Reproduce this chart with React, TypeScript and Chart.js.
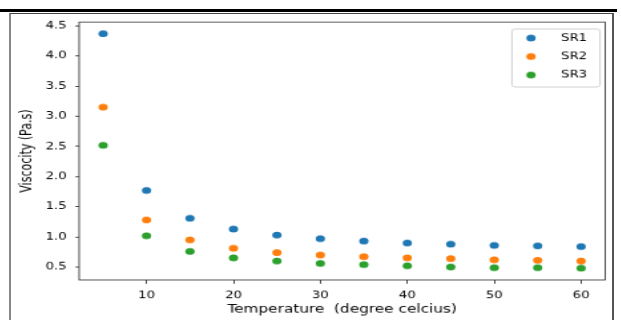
import React, { useEffect, useRef } from "react";
import { Chart, registerables } from "chart.js";

Chart.register(...registerables);

// ---- data ----
const temperatures = [5, 10, 15, 20, 25, 30, 35, 40, 45, 50, 55, 60];
const sr1 = [4.37, 1.77, 1.31, 1.13, 1.03, 0.97, 0.93, 0.9, 0.88, 0.86, 0.85, 0.84];
const sr2 = [3.15, 1.28, 0.95, 0.81, 0.74, 0.7, 0.67, 0.65, 0.64, 0.62, 0.61, 0.6];
const sr3 = [2.52, 1.02, 0.76, 0.65, 0.6, 0.56, 0.54, 0.52, 0.5, 0.49, 0.49, 0.48];
const seriesLabels = ["SR1", "SR2", "SR3"];
const seriesColors = ["#1f77b4", "#ff7f0e", "#2ca02c"];
const xTickValues = [10, 20, 30, 40, 50, 60];
const yTickValues = [0.5, 1.0, 1.5, 2.0, 2.5, 3.0, 3.5, 4.0, 4.5];
const xTitle = "Temperature  (degree celcius)";
const yTitle = "Viscocity (Pa.s)";

// ---- layout (canvas units; canvas is stretched by CSS) ----
const SX = 1.33;
const SY = 0.96;
const CW = 451;
const CH = 318;
const FONT = "DejaVu Sans";

function paddedRange(vals: number[]) {
  const mn = Math.min(...vals);
  const mx = Math.max(...vals);
  const m = (mx - mn) * 0.05;
  return { min: mn - m, max: mx + m };
}

const framePlugin = {
  id: "frameBox",
  afterDatasetsDraw(chart: any) {
    const { ctx, chartArea } = chart;
    ctx.save();
    ctx.strokeStyle = "#222";
    ctx.lineWidth = 0.8;
    ctx.strokeRect(
      chartArea.left,
      chartArea.top,
      chartArea.right - chartArea.left,
      chartArea.bottom - chartArea.top
    );
    ctx.restore();
  },
};

const legendPlugin = {
  id: "boxLegend",
  afterDraw(chart: any) {
    const { ctx, chartArea } = chart;
    const w = 66.2;
    const h = 60.4;
    const x0 = chartArea.right - 3.8 - w;
    const y0 = chartArea.top + 7.3;
    ctx.save();
    ctx.beginPath();
    ctx.roundRect(x0, y0, w, h, 2.5);
    ctx.fillStyle = "rgba(255,255,255,0.8)";
    ctx.fill();
    ctx.strokeStyle = "#d0d0d0";
    ctx.lineWidth = 1;
    ctx.stroke();
    const rows = [9.4, 28.6, 47.9];
    chart.data.datasets.forEach((ds: any, i: number) => {
      const cy = y0 + rows[i];
      ctx.beginPath();
      ctx.arc(x0 + 14.3, cy, 3.5, 0, Math.PI * 2);
      ctx.fillStyle = ds.backgroundColor;
      ctx.fill();
      ctx.fillStyle = "#000";
      ctx.font = `10px "${FONT}"`;
      ctx.textBaseline = "middle";
      ctx.textAlign = "left";
      ctx.fillText(ds.label, x0 + 36.9, cy);
    });
    ctx.restore();
  },
};

export default function App() {
  const ref = useRef<HTMLCanvasElement | null>(null);

  useEffect(() => {
    if (!ref.current) return;
    const xr = paddedRange(temperatures);
    const yr = paddedRange([...sr1, ...sr2, ...sr3]);
    const series = [sr1, sr2, sr3];
    const chart = new Chart(ref.current, {
      type: "scatter",
      data: {
        datasets: series.map((vals, i) => ({
          label: seriesLabels[i],
          data: temperatures.map((t, j) => ({ x: t, y: vals[j] })),
          backgroundColor: seriesColors[i],
          borderColor: seriesColors[i],
          borderWidth: 0,
          pointRadius: 3.5,
          pointHoverRadius: 3.5,
        })),
      },
      options: {
        responsive: false,
        animation: false,
        devicePixelRatio: 1,
        layout: { padding: { left: 0, right: 3.6, top: 7.3, bottom: 0 } },
        plugins: {
          legend: { display: false },
          tooltip: { enabled: false },
        },
        scales: {
          x: {
            type: "linear",
            min: xr.min,
            max: xr.max,
            afterBuildTicks: (s: any) => {
              s.ticks = xTickValues.map((v) => ({ value: v }));
            },
            afterFit: (s: any) => {
              s.height = 42;
              s.paddingLeft = 0;
              s.paddingRight = 0;
            },
            ticks: {
              font: { family: FONT, size: 10 },
              color: "#000",
              padding: 6.4,
              maxRotation: 0,
              autoSkip: false,
            },
            grid: {
              drawOnChartArea: false,
              drawTicks: true,
              tickLength: 4,
              tickColor: "#222",
              tickWidth: 0.8,
            },
            border: { display: false },
            title: {
              display: true,
              text: xTitle,
              font: { family: FONT, size: 11.5 },
              color: "#000",
              padding: { top: 0, bottom: 3.8 },
            },
          },
          y: {
            type: "linear",
            min: yr.min,
            max: yr.max,
            afterBuildTicks: (s: any) => {
              s.ticks = yTickValues.map((v) => ({ value: v }));
            },
            afterFit: (s: any) => {
              s.width = 52;
              s.paddingTop = 0;
              s.paddingBottom = 0;
            },
            ticks: {
              font: { family: FONT, size: 10 },
              color: "#000",
              padding: 6.4,
              autoSkip: false,
              callback: (v: any) => Number(v).toFixed(1),
            },
            grid: {
              drawOnChartArea: false,
              drawTicks: true,
              tickLength: 3,
              tickColor: "#222",
              tickWidth: 0.8,
            },
            border: { display: false },
            title: {
              display: true,
              text: yTitle,
              font: { family: FONT, size: 11.5 },
              color: "#000",
              padding: { top: 6, bottom: 0 },
            },
          },
        },
      },
      plugins: [framePlugin, legendPlugin],
    } as any);
    return () => chart.destroy();
  }, []);

  return (
    <div
      style={{
        position: "fixed",
        left: 0,
        top: 0,
        width: 621,
        height: 320,
        background: "#fff",
        overflow: "hidden",
      }}
    >
      <div
        style={{
          position: "absolute",
          left: 0,
          top: 9,
          width: 617,
          height: 3,
          background: "#000",
        }}
      />
      <div
        style={{
          position: "absolute",
          left: 9,
          top: 13,
          width: 605,
          height: 400,
          boxSizing: "border-box",
          borderTop: "1px solid #444",
          borderLeft: "2px solid #888",
          borderRight: "2px solid #555",
        }}
      />
      <canvas
        ref={ref}
        width={CW}
        height={CH}
        style={{
          position: "absolute",
          left: 10,
          top: 15,
          width: CW,
          height: CH,
          transform: `scale(${SX}, ${SY})`,
          transformOrigin: "0 0",
        }}
      />
    </div>
  );
}
